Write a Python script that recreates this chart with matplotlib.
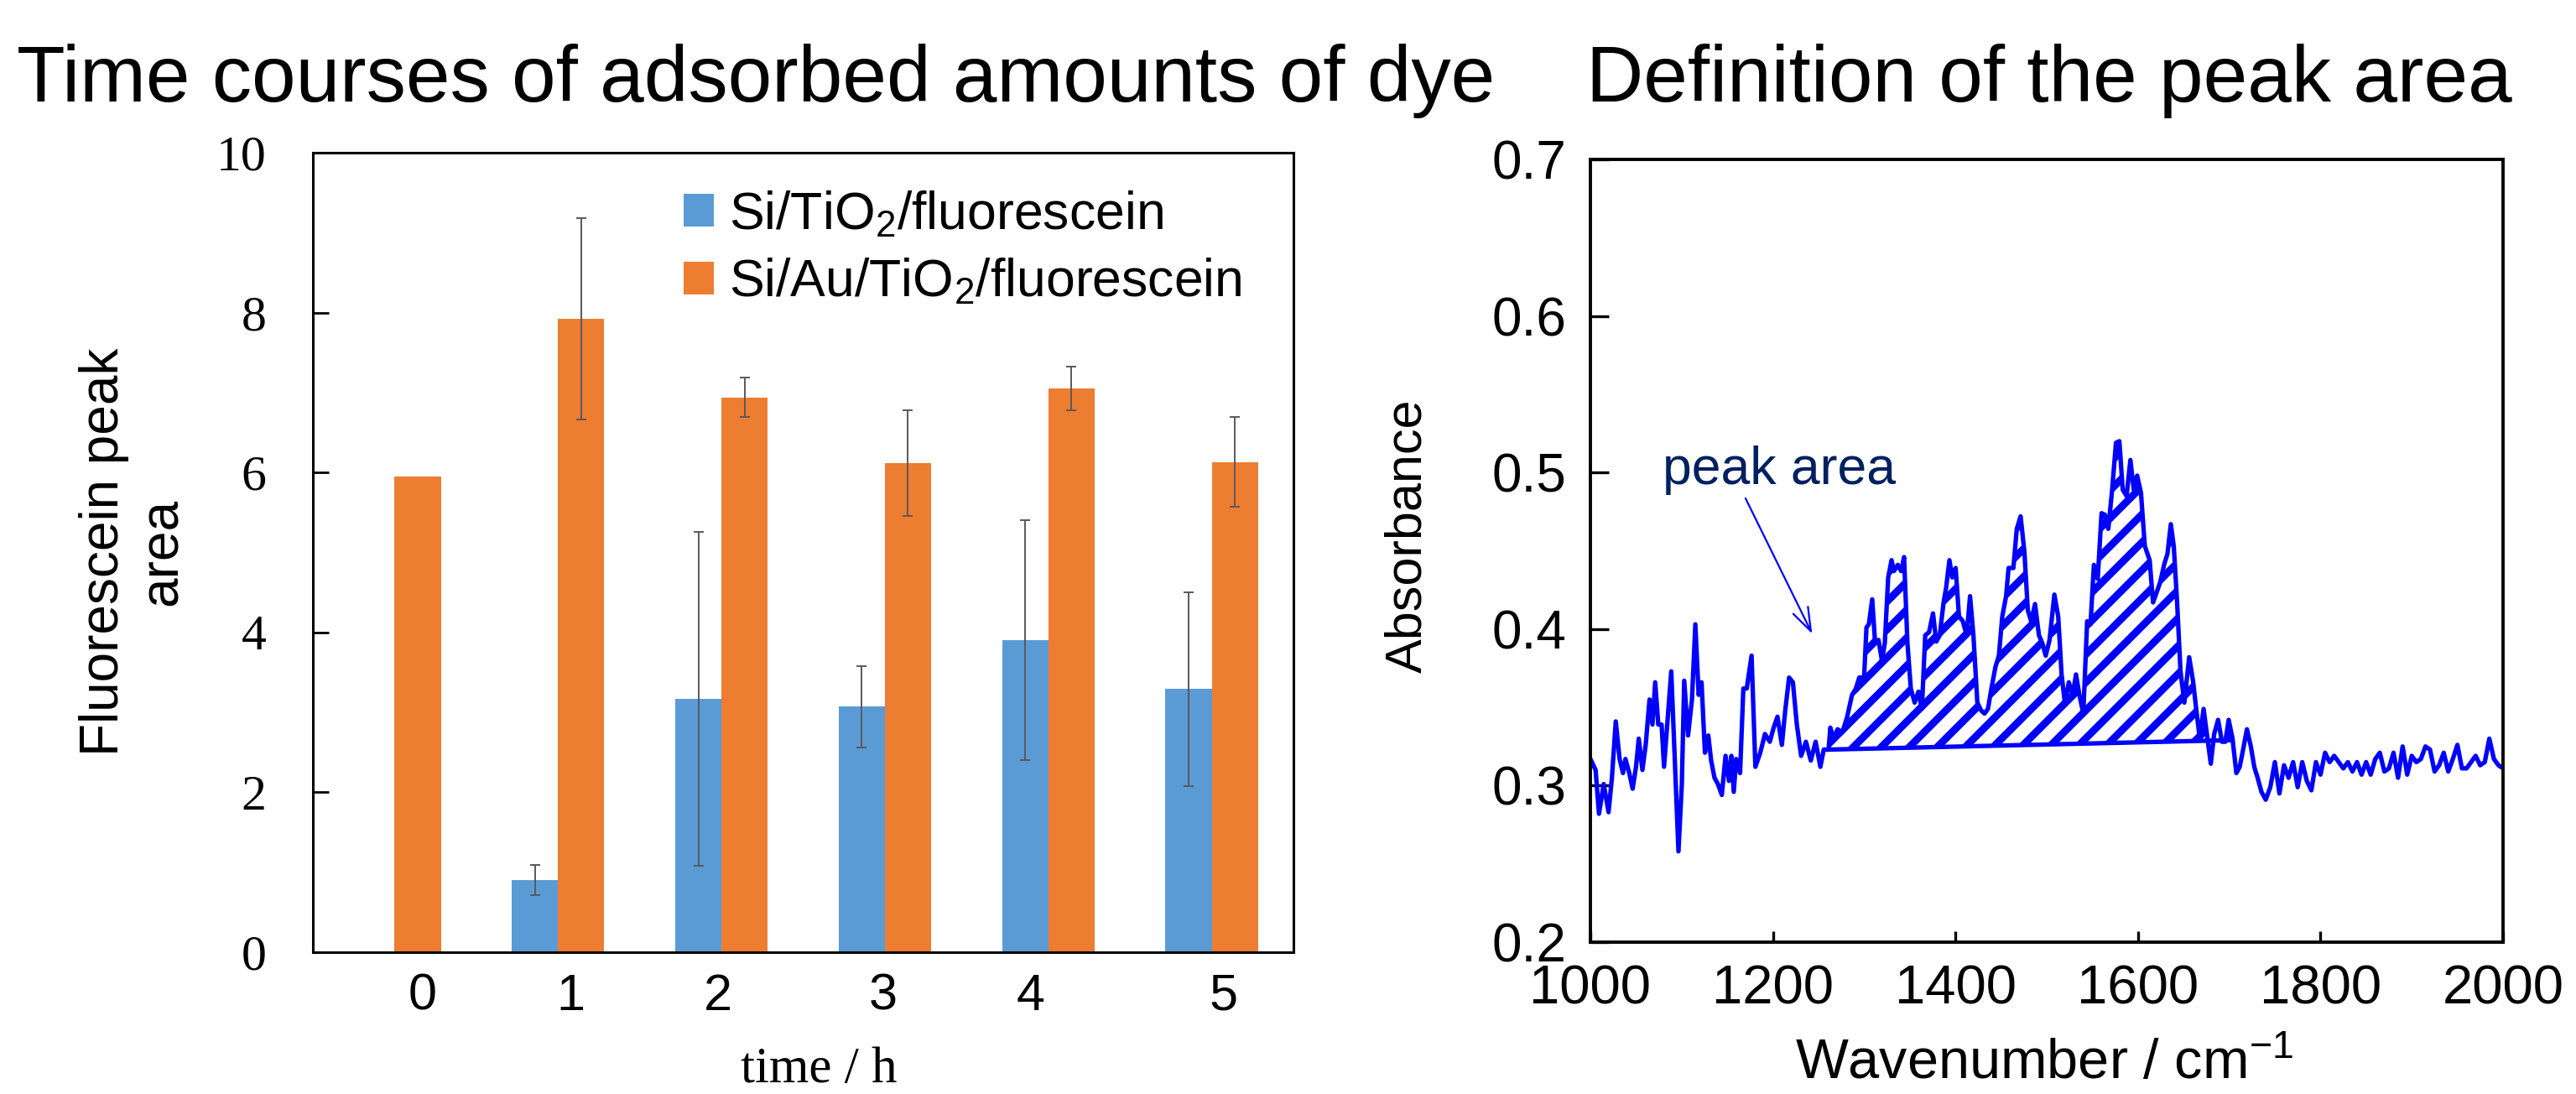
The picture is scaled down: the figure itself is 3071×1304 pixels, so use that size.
import numpy as np
import matplotlib
matplotlib.use('Agg')
import matplotlib.pyplot as plt

plt.rcParams['font.family'] = ['Liberation Sans', 'DejaVu Sans']
plt.rcParams['mathtext.fontset'] = 'custom'
plt.rcParams['mathtext.rm'] = 'Liberation Sans'
plt.rcParams['mathtext.sf'] = 'Liberation Sans'
plt.rcParams['mathtext.it'] = 'Liberation Sans:italic'
plt.rcParams['mathtext.bf'] = 'Liberation Sans:bold'
plt.rcParams['hatch.color'] = '#0000FF'
plt.rcParams['hatch.linewidth'] = 3.2
SERIF = ['Liberation Serif', 'DejaVu Serif']

# ---------------- data: left chart ----------------
time_h = [0, 1, 2, 3, 4, 5]
time_labels = ['0', '1', '2', '3', '4', '5']
tio2_area = [np.nan, 0.90, 3.17, 3.07, 3.90, 3.29]
tio2_err = [np.nan, 0.19, 2.09, 0.51, 1.50, 1.21]
au_area = [5.95, 7.92, 6.94, 6.12, 7.05, 6.13]
au_err = [np.nan, 1.26, 0.25, 0.66, 0.27, 0.56]
series_labels = ['Si/TiO$_2$/fluorescein', 'Si/Au/TiO$_2$/fluorescein']
y_ticks_left = [0, 2, 4, 6, 8, 10]

# layout: where the (hand-placed) category labels sit
time_label_pos = [0.17, 1.08, 1.98, 2.99, 3.89, 5.07]

# ---------------- data: right chart ----------------
wavenumber = [
    1000, 1005.7, 1009.4, 1014.6, 1019.9, 1023.6, 1027.8, 1032, 1035.7, 1038.4,
    1042.6, 1046.3, 1050, 1053, 1057, 1060.6, 1064.8, 1068, 1071, 1074.4,
    1078, 1080.7, 1088.6, 1096.5, 1100.2, 1102.8, 1107, 1111.3, 1115, 1118.6,
    1121.8, 1125.5, 1129.2, 1132.3, 1136, 1139.7, 1144, 1148.1, 1151.8, 1154.5,
    1157.1, 1159.7, 1164, 1167.6, 1171.3, 1176.6, 1180.8, 1186.1, 1191.3, 1196.6,
    1200.8, 1205, 1209.8, 1213.5, 1217.7, 1221.9, 1226.2, 1230.9, 1236.2, 1241.5,
    1246.8, 1252, 1255.7, 1261, 1262.9, 1266.6, 1270.8, 1276.1, 1281.4, 1286.7,
    1290.9, 1294.6, 1299.9, 1302.5, 1305.1, 1308.8, 1312, 1315.7, 1319.4, 1322.6,
    1326.3, 1330, 1332.6, 1336.8, 1340.5, 1343.7, 1347.4, 1351.1, 1355.3, 1359.5,
    1363.2, 1366.9, 1371.1, 1375.4, 1379, 1382.8, 1387, 1389.7, 1393.4, 1396.5,
    1400.2, 1403.9, 1408.1, 1412.3, 1416, 1419.7, 1424, 1428.2, 1431.9, 1435.6,
    1439.4, 1443.9, 1447.6, 1451.3, 1455.5, 1458.2, 1463.5, 1467.2, 1471.4, 1475.6,
    1479.3, 1483, 1487.2, 1491.5, 1495.2, 1498.9, 1503.1, 1508.4, 1512.6, 1516.3,
    1520, 1524.2, 1528.4, 1532.1, 1535.8, 1540.1, 1544.3, 1548, 1551.7, 1555.9,
    1560.1, 1563.8, 1567.5, 1571.7, 1575.9, 1579.6, 1583.3, 1587.5, 1591.7, 1595.4,
    1599.1, 1603.3, 1607.5, 1612.8, 1616.5, 1620.2, 1624.4, 1628.6, 1632.3, 1636,
    1639.2, 1642.9, 1646.6, 1650.8, 1656.1, 1660.3, 1664, 1667.7, 1671.9, 1676.2,
    1679.8, 1683.5, 1687.8, 1692, 1695.7, 1699.4, 1703.6, 1707.8, 1711.5, 1715.2,
    1719.4, 1723.7, 1727.4, 1731.1, 1735.3, 1740, 1745, 1750, 1755, 1760,
    1765, 1770, 1775, 1780, 1785, 1790, 1795, 1800, 1805, 1810,
    1815, 1820, 1825, 1830, 1835, 1840, 1845, 1850, 1855, 1860,
    1865, 1870, 1875, 1880, 1885, 1890, 1895, 1900, 1905, 1910,
    1915, 1920, 1925, 1930, 1935, 1940, 1945, 1950, 1955, 1960,
    1965, 1970, 1975, 1980, 1985, 1990, 1995, 2000]
absorbance = [
    0.317, 0.310, 0.282, 0.301, 0.283, 0.305, 0.341, 0.317, 0.308, 0.317,
    0.308, 0.298, 0.312, 0.330, 0.310, 0.326, 0.355, 0.339, 0.366, 0.339,
    0.339, 0.312, 0.373, 0.258, 0.301, 0.367, 0.332, 0.355, 0.403, 0.358,
    0.366, 0.321, 0.332, 0.316, 0.305, 0.301, 0.294, 0.319, 0.303, 0.319,
    0.296, 0.317, 0.308, 0.362, 0.362, 0.383, 0.312, 0.321, 0.333, 0.328,
    0.337, 0.344, 0.326, 0.348, 0.369, 0.366, 0.339, 0.319, 0.328, 0.316,
    0.328, 0.312, 0.323, 0.323, 0.337, 0.330, 0.336, 0.334, 0.344, 0.358,
    0.362, 0.369, 0.369, 0.401, 0.403, 0.419, 0.391, 0.393, 0.380, 0.391,
    0.433, 0.444, 0.437, 0.441, 0.437, 0.446, 0.391, 0.362, 0.353, 0.360,
    0.349, 0.396, 0.398, 0.410, 0.392, 0.396, 0.417, 0.426, 0.444, 0.433,
    0.439, 0.408, 0.405, 0.396, 0.421, 0.396, 0.353, 0.348, 0.346, 0.349,
    0.362, 0.376, 0.383, 0.408, 0.421, 0.439, 0.439, 0.464, 0.472, 0.449,
    0.412, 0.405, 0.416, 0.396, 0.391, 0.383, 0.393, 0.422, 0.408, 0.371,
    0.352, 0.366, 0.358, 0.371, 0.358, 0.346, 0.405, 0.403, 0.441, 0.432,
    0.474, 0.473, 0.464, 0.489, 0.519, 0.520, 0.489, 0.485, 0.508, 0.489,
    0.498, 0.487, 0.453, 0.444, 0.417, 0.423, 0.430, 0.441, 0.448, 0.467,
    0.453, 0.417, 0.373, 0.353, 0.382, 0.367, 0.348, 0.330, 0.349, 0.330,
    0.314, 0.333, 0.342, 0.328, 0.328, 0.342, 0.330, 0.308, 0.312, 0.323,
    0.336, 0.325, 0.312, 0.305, 0.296, 0.291, 0.299, 0.315, 0.295, 0.313,
    0.305, 0.315, 0.299, 0.315, 0.303, 0.297, 0.315, 0.307, 0.321, 0.315,
    0.319, 0.315, 0.311, 0.315, 0.309, 0.315, 0.307, 0.315, 0.307, 0.317,
    0.321, 0.309, 0.311, 0.321, 0.305, 0.325, 0.307, 0.319, 0.315, 0.317,
    0.325, 0.323, 0.309, 0.313, 0.321, 0.309, 0.317, 0.326, 0.311, 0.311,
    0.315, 0.319, 0.313, 0.315, 0.330, 0.317, 0.313, 0.311]
baseline_wn = [1261, 1700]
baseline_abs = [0.323, 0.329]
x_ticks_right = [1000, 1200, 1400, 1600, 1800, 2000]
y_ticks_right = [0.2, 0.3, 0.4, 0.5, 0.6, 0.7]

BLUE_BAR = '#5B9BD5'
ORANGE_BAR = '#ED7D31'
ERR = '#595959'
LINE = '#0000FF'

W_PX, H_PX = 3071, 1304
fig = plt.figure(figsize=(W_PX / 200, H_PX / 200), dpi=200)


def fx(px):
    return px / W_PX


def fy(py):
    return 1 - py / H_PX


# ---------------- titles ----------------
fig.text(fx(20), fy(121), 'Time courses of adsorbed amounts of dye', fontsize=34,
         ha='left', va='baseline')
fig.text(fx(1891), fy(121), 'Definition of the peak area', fontsize=34,
         ha='left', va='baseline')

# ---------------- left chart ----------------
ax1 = fig.add_axes([fx(373), fy(1135), fx(1542) - fx(373), fy(182) - fy(1135)])
x = np.array(time_h, dtype=float)
t_val = np.array(tio2_area)
t_err = np.array(tio2_err)
a_val = np.array(au_area)
a_err = np.array(au_err)
bw = 0.283
m_t = ~np.isnan(t_val)
ax1.bar(x[m_t] - bw / 2, t_val[m_t], bw, color=BLUE_BAR, label=series_labels[0], zorder=2)
ax1.bar(x + bw / 2, a_val, bw, color=ORANGE_BAR, label=series_labels[1], zorder=2)
m_te = ~np.isnan(t_err)
ax1.errorbar(x[m_te] - bw / 2, t_val[m_te], yerr=t_err[m_te], fmt='none', ecolor=ERR,
             elinewidth=0.7, capsize=2.2, capthick=0.7, zorder=3)
m_ae = ~np.isnan(a_err)
ax1.errorbar(x[m_ae] + bw / 2, a_val[m_ae], yerr=a_err[m_ae], fmt='none', ecolor=ERR,
             elinewidth=0.7, capsize=2.2, capthick=0.7, zorder=3)
ax1.set_xlim(-0.5, 5.5)
ax1.set_ylim(0, 10)
ax1.set_yticks(y_ticks_left, [str(v) for v in y_ticks_left], fontfamily=SERIF, fontsize=21.5)
ax1.set_xticks(time_label_pos, time_labels, fontsize=22)
ax1.tick_params(axis='y', direction='in', length=6.8, width=1.0, pad=20)
ax1.tick_params(axis='x', length=0, pad=9)
for s in ax1.spines.values():
    s.set_linewidth(1.1)
ax1.legend(loc='upper left', bbox_to_anchor=(fx(815), fy(226)), bbox_transform=fig.transFigure,
           frameon=False, fontsize=22.5, handlelength=0.58, handleheight=0.58,
           handletextpad=0.29, labelspacing=0.33, borderpad=0, borderaxespad=0)
fig.text(fx(159), fy(658), 'Fluorescein peak\narea', rotation=90, ha='center', va='center',
         multialignment='center', fontsize=23)
fig.text(fx(976), fy(1290), 'time / h', ha='center', va='baseline', fontfamily=SERIF, fontsize=22)

# ---------------- right chart ----------------
ax2 = fig.add_axes([fx(1896), fy(1123), fx(2984) - fx(1896), fy(190) - fy(1123)])
wn = np.array(wavenumber)
ab = np.array(absorbance)
base = np.interp(wn, baseline_wn, baseline_abs)
inside = (wn >= baseline_wn[0]) & (wn <= baseline_wn[1]) & (ab > base)
ax2.fill_between(wn, ab, base, where=inside, interpolate=True, facecolor='none',
                 edgecolor=LINE, hatch='//', linewidth=0, zorder=1)
ax2.plot(wn, ab, color=LINE, lw=1.9, zorder=2)
ax2.plot(baseline_wn, baseline_abs, color=LINE, lw=1.9, zorder=2)
ax2.set_xlim(1000, 2000)
ax2.set_ylim(0.2, 0.7)
ax2.set_xticks(x_ticks_right, [str(v) for v in x_ticks_right], fontsize=23.5)
ax2.set_yticks(y_ticks_right, ['%.1f' % v for v in y_ticks_right], fontsize=23)
ax2.tick_params(axis='y', direction='in', length=7.8, width=1.2, pad=10.4)
ax2.tick_params(axis='x', direction='in', length=4.7, width=1.2, pad=9.5)
for s in ax2.spines.values():
    s.set_linewidth(1.4)
ax2.text(1079, 0.4926, 'peak area', color='#002060', fontsize=22.5, ha='left', va='baseline')
ax2.annotate('', xy=(1243, 0.397), xytext=(1170, 0.4835),
             arrowprops=dict(arrowstyle='->,head_length=1.0,head_width=0.35', color=LINE,
                             lw=0.8, shrinkA=0, shrinkB=0))
fig.text(fx(1679), fy(639), 'Absorbance', rotation=90, ha='center', va='center', fontsize=22)
fig.text(fx(2437), fy(1286), 'Wavenumber / cm$^{-1}$', ha='center', va='baseline', fontsize=24)

fig.savefig('out.png', dpi=200)
